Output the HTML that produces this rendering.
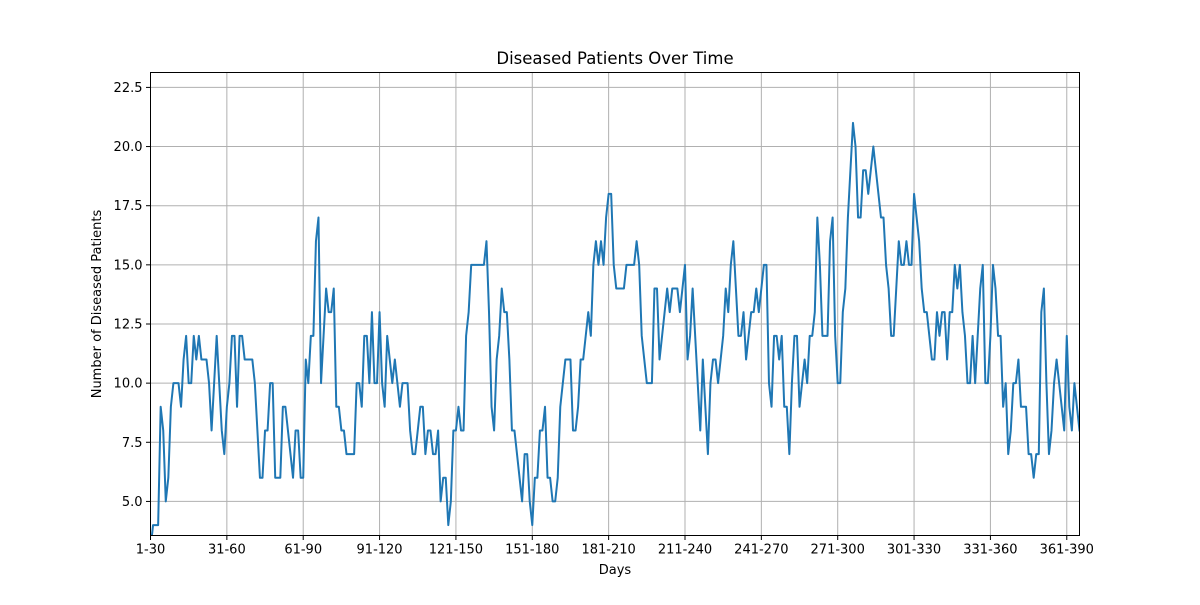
<!DOCTYPE html>
<html><head><meta charset="utf-8"><style>
html,body{margin:0;padding:0;background:#fff;}
svg text{font-family:"DejaVu Sans","Liberation Sans",sans-serif;fill:#000;}
</style></head><body>
<svg id="chart" width="1200" height="600" xmlns="http://www.w3.org/2000/svg">
<rect width="1200" height="600" fill="#fff"/>
<g id="grid"></g>
<g id="ticks"></g>
<defs><clipPath id="clip"><rect x="150.5" y="72.5" width="929" height="463"/></clipPath></defs>
<path id="series" fill="none" stroke="#1f77b4" stroke-width="2" stroke-linejoin="round" stroke-linecap="square" clip-path="url(#clip)"/>
<rect x="150.5" y="72.5" width="929" height="463" fill="none" stroke="#000" stroke-width="1"/>
<text x="615" y="64" font-size="16.5" text-anchor="middle">Diseased Patients Over Time</text>
<text x="615" y="574" font-size="13" text-anchor="middle">Days</text>
<text x="0" y="0" font-size="13" text-anchor="middle" transform="translate(101,304) rotate(-90)">Number of Diseased Patients</text>
</svg>
<script>
const values = [3,4,4,4,9,8,5,6,9,10,10,10,9,11,12,10,10,12,11,12,11,11,11,10,8,10,12,10,8,7,
9,10,12,12,9,12,12,11,11,11,11,10,8,6,6,8,8,10,10,6,6,6,9,9,8,7,6,8,8,6,
6,11,10,12,12,16,17,10,12,14,13,13,14,9,9,8,8,7,7,7,7,10,10,9,12,12,10,13,10,10,
13,10,9,12,11,10,11,10,9,10,10,10,8,7,7,8,9,9,7,8,8,7,7,8,5,6,6,4,5,8,
8,9,8,8,12,13,15,15,15,15,15,15,16,13,9,8,11,12,14,13,13,11,8,8,7,6,5,7,7,5,
4,6,6,8,8,9,6,6,5,5,6,9,10,11,11,11,8,8,9,11,11,12,13,12,15,16,15,16,15,17,
18,18,15,14,14,14,14,15,15,15,15,16,15,12,11,10,10,10,14,14,11,12,13,14,13,14,14,14,13,14,
15,11,12,14,12,10,8,11,9,7,10,11,11,10,11,12,14,13,15,16,14,12,12,13,11,12,13,13,14,13,
14,15,15,10,9,12,12,11,12,9,9,7,10,12,12,9,10,11,10,12,12,13,17,15,12,12,12,16,17,12,
10,10,13,14,17,19,21,20,17,17,19,19,18,19,20,19,18,17,17,15,14,12,12,14,16,15,15,16,15,15,
18,17,16,14,13,13,12,11,11,13,12,13,13,11,13,13,15,14,15,13,12,10,10,12,10,12,14,15,10,10,
12,15,14,12,12,9,10,7,8,10,10,11,9,9,9,7,7,6,7,7,13,14,10,7,8,10,11,10,9,
8,12,9,8,10,9,8];
const yTicks = [5.0,7.5,10.0,12.5,15.0,17.5,20.0,22.5];
const xTickLabels = ["1-30","31-60","61-90","91-120","121-150","151-180","181-210","211-240","241-270","271-300","301-330","331-360","361-390"];
const xTickStep = 30;

const X0=150.5, X1=1079.5, Y0=535.5, Y1=72.5;
const xMax = values.length-1;
const yMin = 3.56, yMax = 23.13;
const xs = d => X0 + (X1-X0)*d/xMax;
const ys = v => Y0 - (Y0-Y1)*(v-yMin)/(yMax-yMin);
const NS="http://www.w3.org/2000/svg";
const grid=document.getElementById('grid'), ticks=document.getElementById('ticks');
function mk(tag, attrs, parent){const e=document.createElementNS(NS,tag);for(const k in attrs)e.setAttribute(k,attrs[k]);parent.appendChild(e);return e;}
yTicks.forEach(v=>{
  const y=ys(v);
  const g=mk('line',{x1:X0,x2:X1,y1:y,y2:y,stroke:'#b0b0b0','stroke-width':1},grid);
  
  
  const t=mk('line',{x1:X0-4.5,x2:X0,y1:y,y2:y,stroke:'#000','stroke-width':1},ticks);
  
  
  const l=mk('text',{x:X0-8,y:y+4.5,'font-size':13,'text-anchor':'end'},ticks);
  l.textContent=v.toFixed(1);
  
  
});
xTickLabels.forEach((s,i)=>{
  const x=xs(i*xTickStep);
  const g=mk('line',{x1:x,x2:x,y1:Y0,y2:Y1,stroke:'#b0b0b0','stroke-width':1},grid);
  
  
  const t=mk('line',{x1:x,x2:x,y1:Y0,y2:Y0+4.5,stroke:'#000','stroke-width':1},ticks);
  
  
  const l=mk('text',{x:x,y:Y0+18,'font-size':13,'text-anchor':'middle'},ticks);
  l.textContent=s;
  
  
});
document.getElementById('series').setAttribute('d', values.map((v,i)=>(i?'L':'M')+xs(i).toFixed(2)+','+ys(v).toFixed(2)).join(''));
</script>
</body></html>
